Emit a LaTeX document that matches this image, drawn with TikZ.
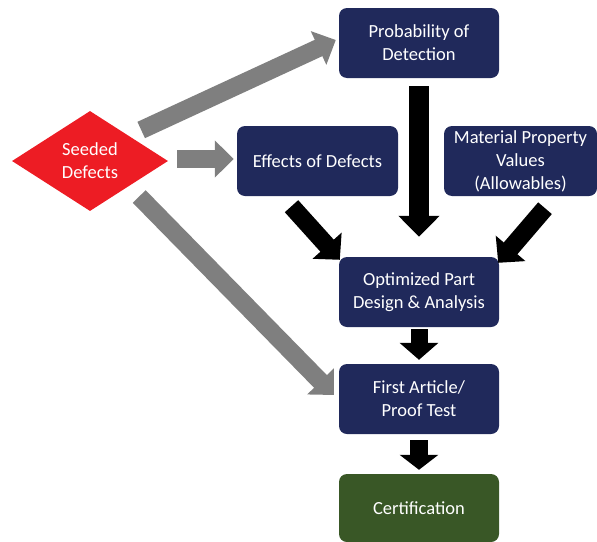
\documentclass[tikz,border=0pt]{standalone}
\usepackage{fontspec}
\setmainfont{Carlito}
\usetikzlibrary{shapes.geometric,arrows.meta,calc}
\definecolor{navy}{RGB}{32,41,91}
\definecolor{seedred}{RGB}{237,28,36}
\definecolor{certgreen}{RGB}{57,87,38}
\definecolor{arrgray}{RGB}{127,127,127}
\tikzset{
  box/.style={draw=none, fill=navy, rounded corners=8pt, text=white, align=center,
    minimum width=160pt, minimum height=70pt, inner sep=2pt,
    font=\fontsize{18.5}{23}\selectfont},
  garrow/.style={draw=arrgray, line width=18pt, -{Triangle[width=36pt,length=19pt]}},
  barrow/.style={draw=black, line width=18pt, -{Triangle[width=38pt,length=19pt]}},
}
\begin{document}
\begin{tikzpicture}[x=1pt,y=-1pt]
\useasboundingbox (0,0) rectangle (597,541);
% nodes
\node[shape=diamond, fill=seedred, text=white, align=center, inner sep=0pt,
      minimum width=156pt, minimum height=100pt,
      font=\fontsize{18.5}{23}\selectfont] (seed) at (90,161) {Seeded\\Defects};
\node[box] (prob) at (419,43) {Probability of\\Detection};
\node[box, minimum width=161pt] (effects) at (317.5,161) {Effects of Defects};
\node[box, minimum width=153pt] (mat) at (520.5,161) {Material Property\\Values\\(Allowables)};
\node[box] (opt) at (419,292) {Optimized Part\\Design \& Analysis};
\node[box] (first) at (419,399) {First Article/\\Proof Test};
\node[box, fill=certgreen, minimum height=68pt] (cert) at (419,508) {Certification};
% gray arrows
\draw[garrow] ($(seed.east)+(-27,-31)$) -- ($(prob.west)+(-3,-3)$);
\draw[garrow] ($(seed.east)+(9,-2)$) -- ($(effects.west)+(-3,-2)$);
\draw[garrow] ($(seed.east)+(-29,35.5)$) -- ($(first.west)+(-5,-4)$);
% black arrows
\draw[barrow] ($(effects.south)+(-26,10)$) -- ($(opt.north west)+(1,3)$);
\draw[barrow, line width=20pt, -{Triangle[width=40pt,length=21pt]}] ($(prob.south)+(0,8)$) -- ($(opt.north)+(0,-20)$);
\draw[barrow] ($(mat.south)+(24.5,12)$) -- ($(opt.north east)+(-1,6)$);
\draw[barrow, line width=17pt, -{Triangle[width=38pt,length=17pt]}] ($(opt.south)+(0,2)$) -- ($(first.north)+(0,-4)$);
\draw[barrow, -{Triangle[width=38pt,length=15pt]}] ($(first.south)+(0,6)$) -- ($(cert.north)+(0,-4)$);
\end{tikzpicture}
\end{document}
